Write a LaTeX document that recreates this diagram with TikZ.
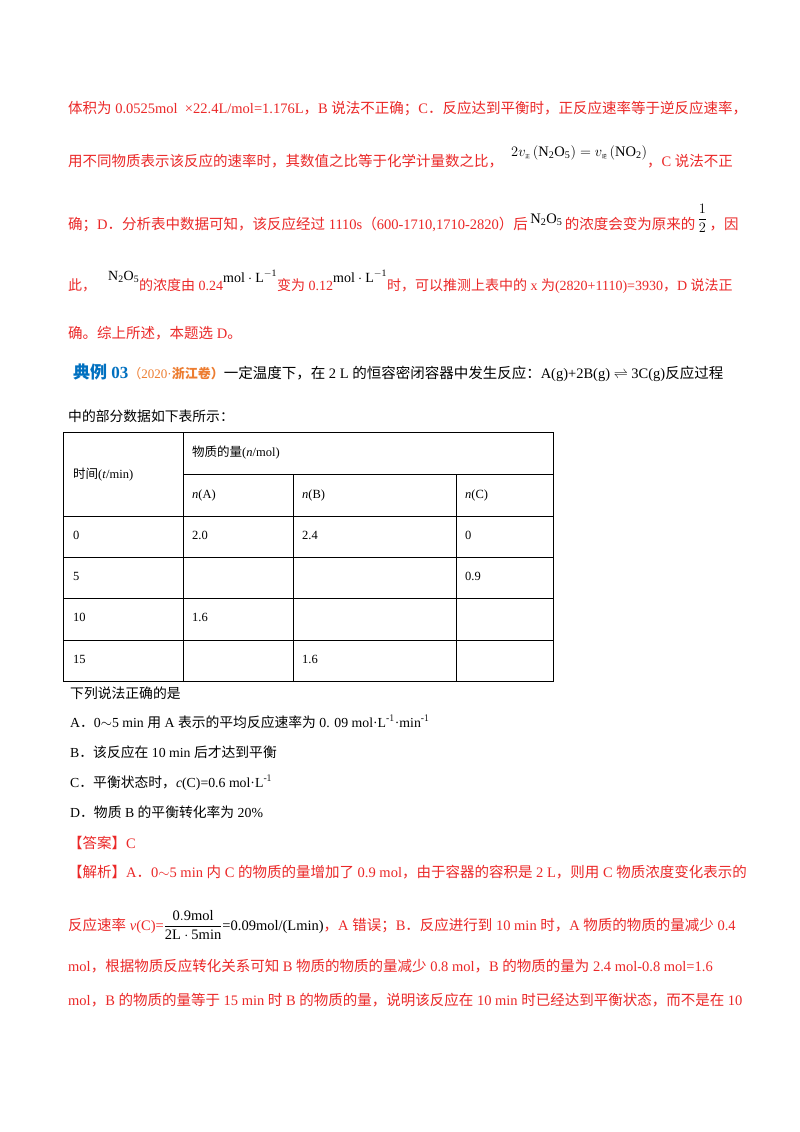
\documentclass[tikz,border=0pt]{standalone}
\usepackage{fontspec}
\usepackage{amsmath}
\setmainfont{Liberation Serif}
\newfontfamily\zhf{Noto Sans CJK SC}
\newcommand{\zh}[1]{{\zhf #1}}
\newcommand{\up}[2]{\raisebox{#1}{\textcolor{black}{#2}}}
\definecolor{rd}{RGB}{235,40,40}
\definecolor{bl}{RGB}{0,112,192}
\definecolor{og}{RGB}{237,125,49}
\begin{document}
\begin{tikzpicture}[x=1pt,y=-1pt,
  txt/.style={anchor=base west,inner sep=0pt,font=\fontsize{13.8}{16}\selectfont},
  red/.style={txt,text=rd,font=\fontsize{14.5}{17}\selectfont},
  cell/.style={anchor=base west,inner sep=0pt,font=\fontsize{12.5}{15}\selectfont}]
\useasboundingbox (0,0) rectangle (800,1132);
\fill[white] (0,0) rectangle (800,1132);
\node[red] (l1) at (68,113) {\zh{体积为} 0.0525mol\ \ ×22.4L/mol=1.176L\zh{，}B \zh{说法不正确；}C\zh{．反应达到平衡时，正反应速率等于逆反应速率，}};
\node[red] (l2) at (68,166) {\zh{用不同物质表示该反应的速率时，其数值之比等于化学计量数之比，}\hspace{8pt}\up{10pt}{$2v_{\mbox{\tiny\zh{正}}}\left(\mathrm{N_2O_5}\right)=v_{\mbox{\tiny\zh{逆}}}\left(\mathrm{NO_2}\right)$}\zh{，}C \zh{说法不正}};
\node[red] (l3) at (68,229) {\zh{确；}D\zh{．分析表中数据可知，该反应经过} 1110s\zh{（}600-1710,1710-2820\zh{）后}\,\up{6pt}{$\mathrm{N_2O_5}$}\,\zh{的浓度会变为原来的}\,\up{6pt}{\fontsize{14}{16}\selectfont$\dfrac{1}{2}$}\,\zh{，因}};
\node[red,font=\fontsize{14}{17}\selectfont] (l4) at (68,290) {\zh{此，}\hspace{12pt}\up{10pt}{$\mathrm{N_2O_5}$}\zh{的浓度由} 0.24\up{8pt}{$\mathrm{mol\cdot L^{-1}}$}\zh{变为} 0.12\up{8pt}{$\mathrm{mol\cdot L^{-1}}$}\zh{时，可以推测上表中的} x \zh{为}(2820+1110)=3930\zh{，}D \zh{说法正}};
\node[red] (l5) at (68,338) {\zh{确。综上所述，本题选} D\zh{。}};
\node[txt,font=\fontsize{14.5}{17}\selectfont] (t1) at (73,378) {\textcolor{bl}{\fontsize{17}{19}\selectfont\zh{\bfseries 典例}\bfseries\ 03}\textcolor{og}{\fontsize{13}{15}\selectfont\zh{（}2020·\zh{\bfseries 浙江卷）}}\zh{一定温度下，在} 2 L \zh{的恒容密闭容器中发生反应：}A(g)+2B(g) $\rightleftharpoons$ 3C(g)\zh{反应过程}};
\node[txt] (t2) at (68,421) {\zh{中的部分数据如下表所示：}};
% table
\draw[line width=0.8pt] (63,432) rectangle (553,681);
\draw (183,432) -- (183,681);
\draw (293,474) -- (293,681);
\draw (456,474) -- (456,681);
\draw (183,474) -- (553,474);
\foreach \yy in {516,557,598,640} \draw (63,\yy) -- (553,\yy);
\node[cell] (h1) at (73,478) {\zh{时间}(\textit{t}/min)};
\node[cell] (h2) at (192,456) {\zh{物质的量}(\textit{n}/mol)};
\node[cell] (ha) at (192,498) {\textit{n}(A)};
\node[cell] (hb) at (302,498) {\textit{n}(B)};
\node[cell] (hc) at (465,498) {\textit{n}(C)};
\node[cell] (r0) at (73,539) {0};
\node[cell] (r0a) at (192,539) {2.0};
\node[cell] (r0b) at (302,539) {2.4};
\node[cell] (r0c) at (465,539) {0};
\node[cell] (r1) at (73,580) {5};
\node[cell] (r1c) at (465,580) {0.9};
\node[cell] (r2) at (73,621) {10};
\node[cell] (r2a) at (192,621) {1.6};
\node[cell] (r3) at (73,663) {15};
\node[cell] (r3b) at (302,663) {1.6};
\node[txt] (q) at (70,698) {\zh{下列说法正确的是}};
\node[txt] (qa) at (70,727) {A\zh{．}0$\sim$5 min \zh{用} A \zh{表示的平均反应速率为} 0. 09 mol·L$^{\text{-}1}$·min$^{\text{-}1}$};
\node[txt] (qb) at (70,757) {B\zh{．该反应在} 10 min \zh{后才达到平衡}};
\node[txt] (qc) at (70,787) {C\zh{．平衡状态时，}\textit{c}(C)=0.6 mol·L$^{\text{-}1}$};
\node[txt] (qd) at (70,817) {D\zh{．物质} B \zh{的平衡转化率为} 20\%};
\node[red] (ans) at (68,848) {\zh{【答案】}C};
\node[red] (e1) at (68,877) {\zh{【解析】}A\zh{．}0$\sim$5 min \zh{内} C \zh{的物质的量增加了} 0.9 mol\zh{，由于容器的容积是} 2 L\zh{，则用} C \zh{物质浓度变化表示的}};
\node[red] (e2) at (68,930) {\zh{反应速率} \textit{v}(C)=\textcolor{black}{$\dfrac{\mathrm{0.9mol}}{\mathrm{2L\cdot 5min}}$=0.09mol/(Lmin)}\zh{，}A \zh{错误；}B\zh{．反应进行到} 10 min \zh{时，}A \zh{物质的物质的量减少} 0.4};
\node[red] (e3) at (68,971) {mol\zh{，根据物质反应转化关系可知} B \zh{物质的物质的量减少} 0.8 mol\zh{，}B \zh{的物质的量为} 2.4 mol-0.8 mol=1.6};
\node[red] (e4) at (68,1005) {mol\zh{，}B \zh{的物质的量等于} 15 min \zh{时} B \zh{的物质的量，说明该反应在} 10 min \zh{时已经达到平衡状态，而不是在} 10};
\end{tikzpicture}
\end{document}
